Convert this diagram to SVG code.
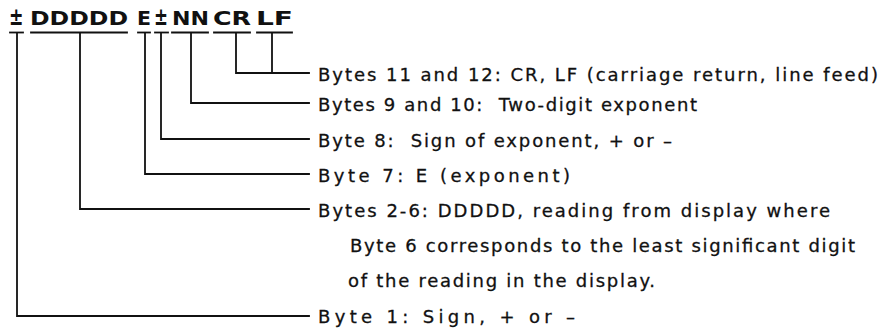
<svg xmlns="http://www.w3.org/2000/svg" width="881" height="333" viewBox="0 0 881 333">
<style>
.hdr{font-family:"DejaVu Sans","Liberation Sans",sans-serif;font-weight:bold;font-size:20px;fill:#111}
.pm{font-size:24px}
.lbl{font-family:"DejaVu Sans","Liberation Sans",sans-serif;font-size:18px;fill:#111;stroke:#111;stroke-width:0.3}
.ln{stroke:#111;stroke-width:1.8;fill:none;stroke-linecap:square;stroke-linejoin:miter}
</style>
<rect width="881" height="333" fill="#fff"/>
<g id="header">
<text class="hdr pm" x="9" y="25" textLength="14.5" lengthAdjust="spacingAndGlyphs">±</text>
<text class="hdr" x="30" y="24.5" textLength="98" lengthAdjust="spacingAndGlyphs">DDDDD</text>
<text class="hdr" x="137" y="24.5" textLength="14" lengthAdjust="spacingAndGlyphs">E</text>
<text class="hdr pm" x="154" y="25" textLength="14" lengthAdjust="spacingAndGlyphs">±</text>
<text class="hdr" x="172" y="24.5" textLength="37" lengthAdjust="spacingAndGlyphs">NN</text>
<text class="hdr" x="213" y="24.5" textLength="38" lengthAdjust="spacingAndGlyphs">CR</text>
<text class="hdr" x="256" y="24.5" textLength="37" lengthAdjust="spacingAndGlyphs">LF</text>
</g>
<g id="underlines" class="ln">
<line x1="10" y1="32.5" x2="23" y2="32.5"/>
<line x1="31" y1="32.5" x2="127" y2="32.5"/>
<line x1="138" y1="32.5" x2="150" y2="32.5"/>
<line x1="155" y1="32.5" x2="168" y2="32.5"/>
<line x1="172" y1="32.5" x2="208" y2="32.5"/>
<line x1="214" y1="32.5" x2="250" y2="32.5"/>
<line x1="257" y1="32.5" x2="292" y2="32.5"/>
</g>
<g id="connectors" class="ln">
<polyline points="236,33 236,73 309,73"/>
<line x1="272" y1="33" x2="272" y2="73"/>
<polyline points="191,33 191,103 309,103"/>
<polyline points="161,33 161,139 309,139"/>
<polyline points="145,33 145,174 309,174"/>
<polyline points="80,33 80,209 309,209"/>
<polyline points="17,33 17,316 309,316"/>
</g>
<g id="label-bytes-11-12">
<text class="lbl" x="318" y="81" textLength="560">Bytes 11 and 12: CR, LF (carriage return, line feed)</text>
</g>
<g id="label-bytes-9-10">
<text class="lbl" x="318" y="111" textLength="379" xml:space="preserve">Bytes 9 and 10:  Two-digit exponent</text>
</g>
<g id="label-byte-8">
<text class="lbl" x="318" y="147" textLength="354" xml:space="preserve">Byte 8:  Sign of exponent, + or –</text>
</g>
<g id="label-byte-7">
<text class="lbl" x="318" y="182" textLength="252">Byte 7: E (exponent)</text>
</g>
<g id="label-bytes-2-6">
<text class="lbl" x="318" y="217" textLength="512">Bytes 2-6: DDDDD, reading from display where</text>
<text class="lbl" x="350" y="252" textLength="505">Byte 6 corresponds to the least significant digit</text>
<text class="lbl" x="348" y="287" textLength="307">of the reading in the display.</text>
</g>
<g id="label-byte-1">
<text class="lbl" x="318" y="323" textLength="257">Byte 1: Sign, + or –</text>
</g>
</svg>
